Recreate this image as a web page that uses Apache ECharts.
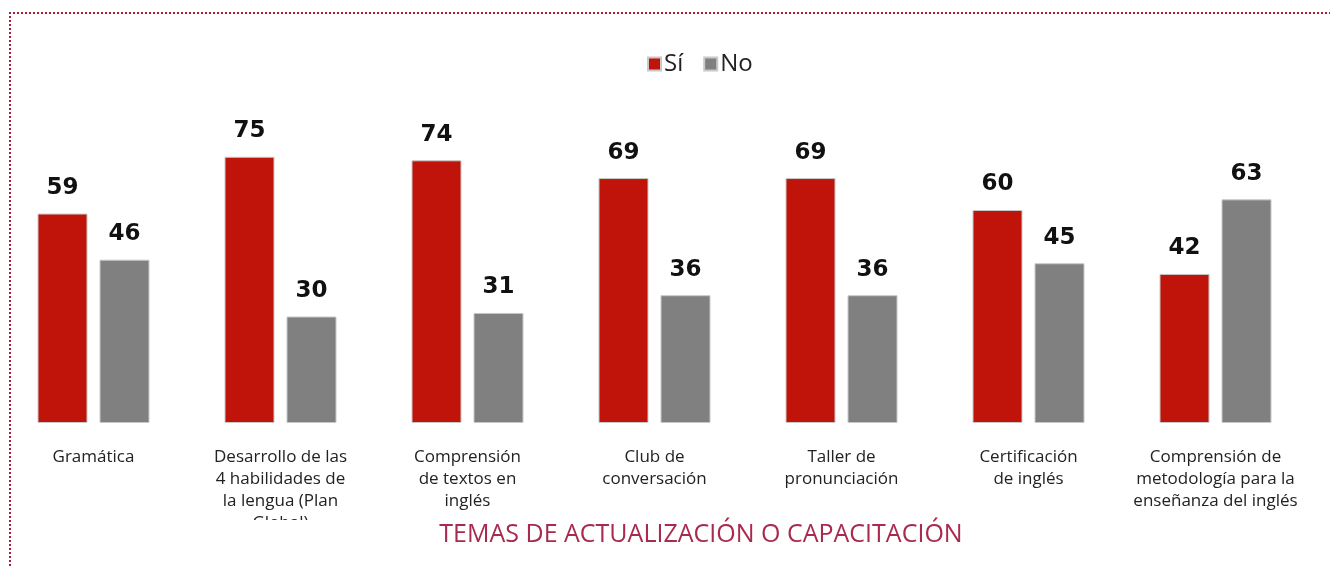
<!DOCTYPE html>
<html lang="es">
<head>
<meta charset="UTF-8">
<title>Temas de actualización o capacitación</title>
<script src="https://cdn.jsdelivr.net/npm/echarts@6.0.0/dist/echarts.min.js"></script>
<style>
  html, body { margin: 0; padding: 0; background: #fff; }
  #wrap { position: relative; width: 1330px; height: 566px; overflow: hidden; }
  #frame { position: absolute; left: 9px; top: 12px; width: 1340px; height: 600px;
           border-top: 2px dotted #a3213f; border-left: 2px dotted #a3213f; }
  #main { position: absolute; left: 0; top: 0; width: 1330px; height: 566px; }
</style>
</head>
<body>
<div id="wrap">
  <div id="frame"></div>
  <div id="main"></div>
</div>
<script>
// categorías y valores (%)
const categorias = [
  'Gramática',
  'Desarrollo de las\n4 habilidades de\nla lengua (Plan\nGlobal)',
  'Comprensión\nde textos en\ninglés',
  'Club de\nconversación',
  'Taller de\npronunciación',
  'Certificación\nde inglés',
  'Comprensión de\nmetodología para la\nenseñanza del inglés'
];
const valoresSi = [59, 75, 74, 69, 69, 60, 42];
const valoresNo = [46, 30, 31, 36, 36, 45, 63];

const chart = echarts.init(document.getElementById('main'));

const etiqueta = {
  show: true,
  position: 'top',
  distance: 14,
  color: '#111',
  fontFamily: 'DejaVu Sans',
  fontWeight: 'bold',
  fontSize: 23
};

chart.setOption({
  animation: false,
  title: {
    text: 'TEMAS DE ACTUALIZACIÓN O CAPACITACIÓN',
    left: 696,
    textAlign: 'center',
    top: 517,
    textStyle: { color: '#a82a4e', fontFamily: 'Open Sans', fontWeight: 'normal', fontSize: 25 }
  },
  legend: {
    left: 642,
    top: 47,
    icon: 'rect',
    itemWidth: 13,
    itemHeight: 13,
    itemGap: 20,
    textStyle: { fontFamily: 'Open Sans', fontSize: 24, color: '#222', padding: [0, 0, 0, -2] },
    data: ['Sí', 'No']
  },
  grid: { left: -2, width: 1311, top: 68, bottom: 143, containLabel: false },
  xAxis: {
    type: 'category',
    data: categorias,
    axisLine: { show: false },
    axisTick: { show: false },
    axisLabel: {
      interval: 0,
      margin: 23,
      color: '#222',
      fontFamily: 'Open Sans',
      fontSize: 17,
      lineHeight: 22
    }
  },
  yAxis: { type: 'value', min: 0, max: 100, show: false, splitLine: { show: false } },
  series: [
    {
      name: 'Sí', type: 'bar', data: valoresSi,
      barWidth: 50, barGap: '24%',
      itemStyle: { color: '#c0140a', borderColor: '#c8c8c8', borderWidth: 1 },
      label: etiqueta
    },
    {
      name: 'No', type: 'bar', data: valoresNo,
      barWidth: 50,
      itemStyle: { color: '#808080', borderColor: '#c8c8c8', borderWidth: 1 },
      label: etiqueta
    }
  ],
  graphic: [
    // recorte del texto que queda bajo el título (como en el original)
    { type: 'rect', left: 185, top: 520, z: 100, shape: { width: 170, height: 30 }, style: { fill: '#fff' } }
  ]
});
</script>
</body>
</html>
